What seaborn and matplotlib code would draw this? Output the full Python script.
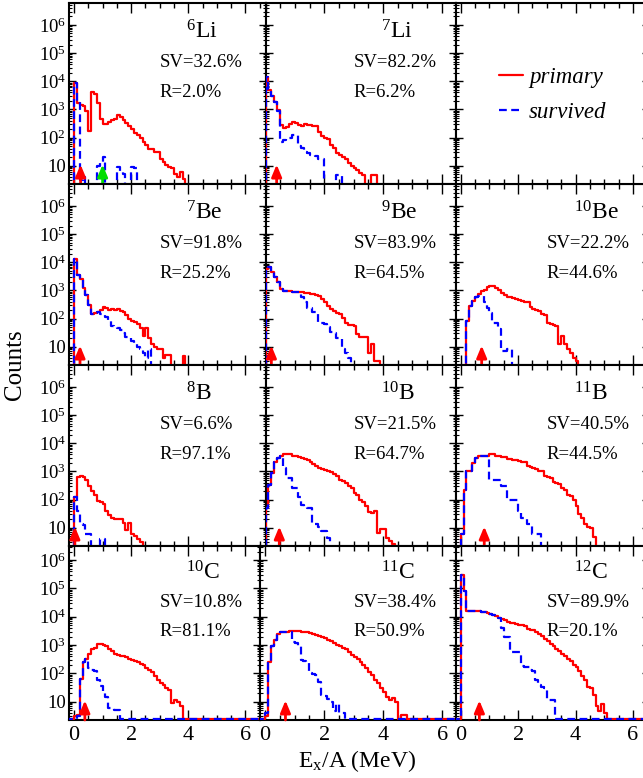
import numpy as np
import matplotlib
matplotlib.use("Agg")
import matplotlib.pyplot as plt
import matplotlib.ticker as mticker
import matplotlib.transforms as mtransforms
from matplotlib.lines import Line2D
import pandas as pd
import seaborn as sns

# ---------------- data (counts per 0.1 MeV/A bin, starting at 0) ----------------
BIN = 0.1
li6_primary = [8700, 1700, 1400, 1300, 900, 170, 4000, 3500, 1700, 450, 300, 300, 350, 420, 470,
               620, 550, 420, 320, 250, 200, 150, 120, 95, 70, 55, 40, 40, 30, 30, 18, 14, 11, 9,
               8, 5, 4, 6, 3.5]
li6_survived = [8700, 1800, 3, 4, 0, 0, 0, 0, 10, 14, 20, 0, 0, 0, 0, 9, 6, 5, 0, 0, 9, 8]
li7_primary = [14000, 5000, 2900, 1900, 980, 280, 215, 240, 310, 370, 340, 280, 260, 310, 290, 290,
               260, 250, 160, 115, 100, 87, 55, 42, 28, 24, 20, 17, 12, 10, 8, 7, 5.3, 4.6, 0, 0,
               4.5, 4.5]
li7_survived = [14000, 5000, 2900, 1900, 900, 72, 80, 95, 100, 120, 125, 50, 42, 30, 28, 24, 24, 22,
                18, 17, 0, 0, 0, 0, 4.5, 4.5]
be7_primary = [13000, 3500, 2500, 1200, 700, 300, 150, 160, 170, 200, 250, 240, 200, 220, 200, 210,
               190, 170, 130, 100, 85, 75, 65, 45, 25, 45, 20, 12, 10, 8.5, 8.5, 4, 5, 5, 0, 0, 0,
               0, 4.5]
be7_survived = [13000, 3500, 2500, 1200, 700, 300, 150, 160, 170, 150, 130, 110, 80, 55, 50, 45, 40,
                30, 22, 20, 16, 13, 10, 8, 6, 4, 8]
be9_primary = [5700, 7000, 4400, 2900, 1940, 1120, 980, 950, 920, 900, 880, 860, 850, 830, 800, 760,
               740, 700, 620, 490, 400, 285, 220, 187, 160, 142, 109, 70, 59, 59, 55, 28, 23, 23,
               23, 6, 12, 3, 3]
be9_survived = [5700, 7000, 4400, 2900, 1940, 1120, 980, 950, 920, 900, 880, 860, 560, 400, 245, 245,
                178, 178, 72, 72, 63, 50, 32, 30, 21, 20, 8, 6, 4]
be10_primary = [0, 0, 83, 285, 430, 590, 740, 970, 1000, 1350, 1470, 1400, 1200, 1050, 800, 700, 600,
                560, 530, 480, 440, 420, 400, 380, 250, 215, 200, 180, 142, 130, 70, 63, 60, 55, 12,
                24, 12, 8, 6, 4, 3.1]
be10_survived = [0, 0, 83, 285, 430, 590, 650, 650, 400, 245, 163, 72, 72, 42, 7, 7, 8, 8]
b8_primary = [120, 650, 680, 650, 500, 300, 200, 150, 90, 80, 70, 40, 28, 22, 20, 20, 20, 15, 8, 15,
              6, 5, 4, 3]
b8_survived = [120, 40, 13, 12, 6, 6, 0, 0, 0, 4, 4]
b10_primary = [50, 340, 900, 2200, 3000, 3500, 4000, 4100, 4100, 3600, 3400, 3200, 2900, 2700, 2500,
               2100, 1900, 1500, 1350, 1250, 1100, 1000, 950, 800, 700, 500, 440, 400, 300, 250,
               170, 150, 100, 85, 58, 36, 34, 39, 6.6, 8.7, 8.7, 4.4, 3.4, 2.6]
b10_survived = [50, 340, 900, 2200, 3000, 3400, 1300, 600, 580, 260, 250, 120, 66, 55, 51, 50, 13,
                13, 11, 7.6, 7.6, 4.4]
b11_primary = [5.8, 225, 1000, 1000, 2000, 3100, 3600, 3600, 3600, 3600, 4000, 4100, 3500, 3400, 3300,
               3200, 2800, 2700, 2600, 2500, 2300, 2200, 2100, 1500, 1400, 1300, 1200, 1050, 1000,
               700, 620, 580, 420, 380, 350, 250, 225, 140, 130, 100, 58, 30, 22, 13, 11, 10, 4.5]
b11_survived = [5.8, 225, 1000, 1000, 2000, 3000, 3500, 3500, 3500, 3500, 510, 510, 510, 510, 300,
                295, 100, 100, 100, 100, 40, 22, 22, 13, 13, 5.8, 5.8, 5.8]
c10_primary = [3, 3.5, 65, 250, 330, 480, 700, 800, 1100, 1100, 1000, 900, 700, 600, 500, 450, 420,
               400, 380, 330, 300, 280, 250, 220, 190, 160, 130, 110, 80, 60, 45, 40, 30, 25, 9, 11,
               10, 7]
c10_survived = [0, 3, 65, 250, 330, 150, 130, 120, 60, 35, 20, 15, 6, 6, 5, 5]
c11_primary = [3, 250, 900, 1500, 2400, 2900, 3000, 3000, 3100, 3200, 3200, 3100, 3000, 2900, 2800,
               2600, 2500, 2300, 2100, 1900, 1800, 1500, 1400, 1200, 1000, 900, 800, 700, 550, 450,
               380, 320, 260, 200, 150, 110, 85, 60, 45, 30, 22, 14, 11, 13, 10, 0, 3.5, 3.5]
c11_survived = [4, 250, 900, 1500, 2400, 2900, 3000, 3000, 2900, 1300, 1200, 900, 300, 280, 250, 100,
                95, 90, 50, 17, 16, 12, 10, 4.5, 8, 4, 4]
c12_primary = [300000, 80000, 16500, 16000, 16000, 15500, 15500, 15000, 14500, 13500, 12500, 11500,
               11000, 9000, 8000, 7500, 6500, 6200, 6000, 5600, 5200, 5000, 4600, 3800, 3500, 3300,
               3000, 2400, 2100, 1600, 1400, 1050, 950, 700, 600, 480, 420, 320, 280, 200, 170, 120,
               80, 60, 34, 30, 17, 7, 4.5, 8, 4]
c12_survived = [300000, 80000, 16500, 16000, 16000, 15500, 15500, 15000, 14500, 13500, 12500, 11500,
                11000, 9000, 3900, 2000, 2000, 580, 570, 560, 550, 175, 170, 165, 130, 125, 60, 40,
                34, 30, 11, 11, 11]

nuclei = ["$^{6}$Li", "$^{7}$Li", "$^{7}$Be", "$^{9}$Be", "$^{10}$Be", "$^{8}$B",
          "$^{10}$B", "$^{11}$B", "$^{10}$C", "$^{11}$C", "$^{12}$C"]
primary_series = [li6_primary, li7_primary, be7_primary, be9_primary, be10_primary, b8_primary,
                  b10_primary, b11_primary, c10_primary, c11_primary, c12_primary]
survived_series = [li6_survived, li7_survived, be7_survived, be9_survived, be10_survived,
                   b8_survived, b10_survived, b11_survived, c10_survived, c11_survived, c12_survived]
sv_values = [32.6, 82.2, 91.8, 83.9, 22.2, 6.6, 21.5, 40.5, 10.8, 38.4, 89.9]
r_values = [2.0, 6.2, 25.2, 64.5, 44.6, 97.1, 64.7, 44.5, 81.1, 50.9, 20.1]
red_arrow_x = [0.23, 0.38, 0.21, 0.20, 0.73, 0.03, 0.47, 0.82, 0.38, 0.69, 0.65]
green_arrow_x = {"$^{6}$Li": 1.0}
x_ticks = [0, 2, 4, 6]
y_ticks = [1e1, 1e2, 1e3, 1e4, 1e5, 1e6]
y_ticklabels = ["10", "$10^{2}$", "$10^{3}$", "$10^{4}$", "$10^{5}$", "$10^{6}$"]
legend_labels = ["primary", "survived"]

# ---------------- style ----------------
sns.set_theme(style="ticks")
plt.rcParams["font.family"] = ["Liberation Serif", "DejaVu Serif"]
plt.rcParams["mathtext.fontset"] = "custom"
plt.rcParams["mathtext.rm"] = "Liberation Serif"
plt.rcParams["mathtext.it"] = "Liberation Serif:italic"
plt.rcParams["mathtext.bf"] = "Liberation Serif:bold"
plt.rcParams["text.color"] = "black"
plt.rcParams["xtick.color"] = "black"
plt.rcParams["ytick.color"] = "black"
plt.rcParams["axes.edgecolor"] = "black"

W, H = 643, 778
fig = plt.figure(figsize=(W / 100, H / 100), dpi=100)
fig.patch.set_facecolor("white")

# layout (pixels); rows 0-2 and row 3 have slightly different column geometry
col_left_upper = [69, 265.5, 455.7]
col_width_upper = [196.5, 190.2, 193.0]
col_xlim_upper = [(-0.175, 6.70), (0.0, 6.48), (-0.175, 6.55)]
col_left_lower = [69, 259.5, 455.7]
col_width_lower = [190.5, 196.2, 193.0]
col_xlim_lower = [(-0.175, 6.49), (-0.19, 6.46), (-0.175, 6.55)]
row_top = [3, 184, 365, 546]
row_height = [181, 181, 181, 174]
row_ylim = [(10 ** 0.35, 10 ** 6.78)] * 3 + [(10 ** 0.35, 10 ** 6.5)]

RED = "#ff0000"
BLUE = "#0000ff"
GREEN = "#00dd00"
DASH = (0, (3.5, 2.0))


def geom(r, c):
    if r == 3:
        return col_left_lower[c], col_width_lower[c], col_xlim_lower[c]
    return col_left_upper[c], col_width_upper[c], col_xlim_upper[c]


def make_axes(r, c):
    left, width, _ = geom(r, c)
    ax = fig.add_axes([left / W, 1 - (row_top[r] + row_height[r]) / H,
                       width / W, row_height[r] / H])
    ax.set_facecolor("white")
    return ax


def style_axes(ax, r, c):
    _, _, xlim = geom(r, c)
    ax.set_yscale("log")
    ax.set_xlim(*xlim)
    ax.set_ylim(*row_ylim[r])
    ax.xaxis.set_major_locator(mticker.FixedLocator(x_ticks))
    ax.xaxis.set_minor_locator(mticker.MultipleLocator(0.5))
    ax.yaxis.set_major_locator(mticker.FixedLocator(y_ticks))
    ax.yaxis.set_minor_locator(mticker.LogLocator(base=10, subs=np.arange(2, 10), numticks=30))
    ax.yaxis.set_minor_formatter(mticker.NullFormatter())
    if c == 0:
        ax.set_yticklabels(y_ticklabels)
    else:
        ax.set_yticklabels([])
    if r == 3:
        ax.set_xticklabels([str(t) for t in x_ticks])
    else:
        ax.set_xticklabels([])
    ax.tick_params(axis="both", which="both", direction="in", top=True, right=True)
    ax.tick_params(axis="x", which="major", length=7, width=1.0, labelsize=16, pad=4)
    ax.tick_params(axis="x", which="minor", length=3.5, width=1.0)
    ax.tick_params(axis="y", which="major", length=5, width=1.0, labelsize=13.5, pad=2)
    ax.tick_params(axis="y", which="minor", length=2.5, width=0.8)
    for s in ax.spines.values():
        s.set_linewidth(1.5)
        s.set_color("black")
    ax.set_xlabel("")
    ax.set_ylabel("")


def draw_hist(ax, counts, color, style, floor):
    vals = np.asarray(counts, dtype=float)
    n_pre, n_total = 3, 72
    full = np.zeros(n_total)
    full[n_pre:n_pre + len(vals)] = vals
    edges = (np.arange(n_total + 1) - n_pre) * BIN
    centers = edges[:-1] + BIN / 2
    if floor is not None:
        full = np.maximum(full, floor)
    df = pd.DataFrame({"e": centers, "n": full})
    sns.histplot(data=df, x="e", weights="n", binwidth=BIN,
                 binrange=(float(edges[0]), float(edges[-1])), element="step", fill=False,
                 color=color, linewidth=1.6, linestyle=style, ax=ax, zorder=3)


def draw_arrow(ax, x, ymin, color):
    ax.annotate("", xy=(x, 11), xytext=(x, ymin), xycoords="data", textcoords="data",
                arrowprops=dict(arrowstyle="-|>,head_length=0.6,head_width=0.25",
                                color=color, lw=2.0, mutation_scale=12,
                                shrinkA=0, shrinkB=0), zorder=4)


positions = [(0, 0), (0, 1), (1, 0), (1, 1), (1, 2), (2, 0), (2, 1), (2, 2), (3, 0), (3, 1), (3, 2)]

for k, (r, c) in enumerate(positions):
    ax = make_axes(r, c)
    ymin = row_ylim[r][0]
    floor = ymin * 1.05 if r == 3 else None
    draw_hist(ax, primary_series[k], RED, "-", floor)
    draw_hist(ax, survived_series[k], BLUE, DASH, floor)
    style_axes(ax, r, c)
    draw_arrow(ax, red_arrow_x[k], ymin, RED)
    if nuclei[k] in green_arrow_x:
        draw_arrow(ax, green_arrow_x[nuclei[k]], ymin, GREEN)
    tr = mtransforms.blended_transform_factory(ax.transData, ax.transAxes)
    ax.text(3.93, 0.805, nuclei[k], transform=tr, ha="left", va="baseline", fontsize=17)
    ax.text(3.0, 0.648, f"SV={sv_values[k]:.1f}%", transform=tr, ha="left", va="baseline",
            fontsize=13.5)
    ax.text(3.0, 0.482, f"R={r_values[k]:.1f}%", transform=tr, ha="left", va="baseline",
            fontsize=13.5)

# legend panel (top right)
lax = make_axes(0, 2)
style_axes(lax, 0, 2)
handles = [Line2D([], [], color=RED, lw=1.6, ls="-"),
           Line2D([], [], color=BLUE, lw=1.6, ls=DASH)]
lax.legend(handles, legend_labels, loc="center left", bbox_to_anchor=(0.225, 0.49),
           frameon=False, handlelength=1.05, handletextpad=0.25, labelspacing=0.6,
           borderpad=0, borderaxespad=0, prop={"style": "italic", "size": 16.5})

fig.text(15 / W, 1 - 365 / H, "Counts", rotation=90, ha="center", va="center", fontsize=18)
fig.text(357 / W, 1 - 761 / H, "E$_{\\mathrm{x}}$/A (MeV)", ha="center", va="center", fontsize=17)

fig.savefig("out.png", dpi=100, facecolor="white")
